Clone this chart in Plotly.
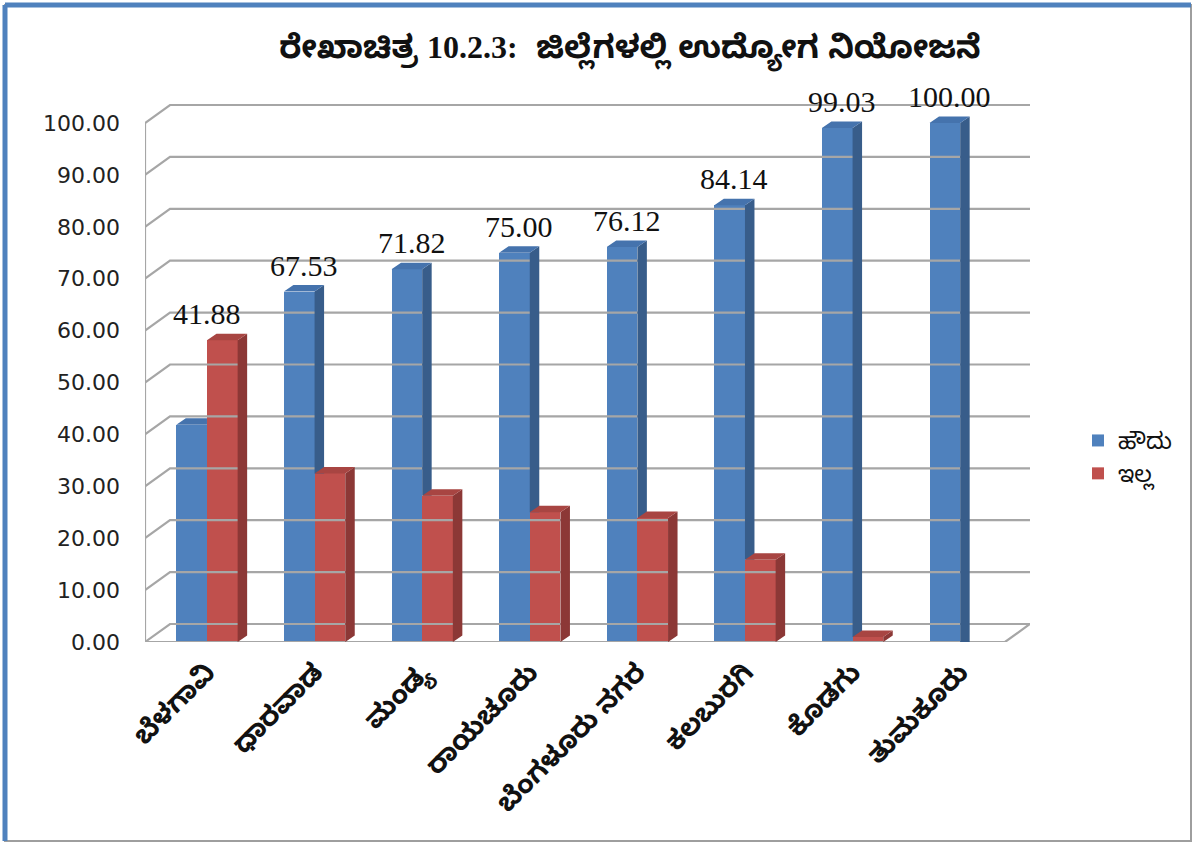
import plotly.graph_objects as go

categories = ["ಬೆಳಗಾವಿ", "ಧಾರವಾಡ", "ಮಂಡ್ಯ", "ರಾಯಚೂರು", "ಬೆಂಗಳೂರು ನಗರ", "ಕಲಬುರಗಿ", "ಕೊಡಗು", "ತುಮಕೂರು"]
yes_vals = [41.88, 67.53, 71.82, 75.00, 76.12, 84.14, 99.03, 100.00]
no_vals = [58.12, 32.47, 28.18, 25.00, 23.88, 15.86, 0.97, 0.00]
series_names = ["ಹೌದು", "ಇಲ್ಲ"]
y_ticks = [0, 10, 20, 30, 40, 50, 60, 70, 80, 90, 100]
title_text = ("<b>ರೇಖಾಚಿತ್ರ <span style='font-family:Liberation Serif'>10.2.3:</span>"
              "  ಜಿಲ್ಲೆಗಳಲ್ಲಿ ಉದ್ಯೋಗ ನಿಯೋಜನೆ</b>")

KN = "Noto Sans Kannada, Noto Sans, Lohit Kannada, sans-serif"
BLUE, BLUE_SIDE, BLUE_TOP = "#4F81BD", "#385D8A", "#4573AD"
RED, RED_SIDE, RED_TOP = "#C0504D", "#8C3836", "#A84542"
GRID = "#A6A6A6"

W, H = 1194, 843
ML, MR, MT, MB = 145, 164, 95, 201
plot_w, plot_h = W - ML - MR, H - MT - MB
x_lo, x_hi = -0.576, 7.649
y_lo, y_hi = 0, 105.4
ppx = plot_w / (x_hi - x_lo)     # pixels per x unit
ppy = plot_h / (y_hi - y_lo)     # pixels per y unit

bw = 0.285                        # bar width (x units)
bdx, bdy = 9.5 / ppx, 6.5 / ppy   # bar depth projection
wdx, wdy = 25 / ppx, 18 / ppy     # wall depth projection

n = len(categories)
xb = [i - bw / 2 for i in range(n)]
xr = [i + bw / 2 for i in range(n)]

fig = go.Figure()

# back wall gridlines + left wall diagonals + floor
gx, gy = [], []
for t in y_ticks:
    gx += [x_lo, x_lo + wdx, x_hi, None]
    gy += [t, t + wdy, t + wdy, None]
floor_right = x_hi - wdx
gx += [x_lo, floor_right, x_hi, None]
gy += [0, 0, wdy, None]
gx += [x_lo, x_lo, None]
gy += [0, y_ticks[-1], None]
fig.add_trace(go.Scatter(x=gx, y=gy, mode="lines", line=dict(color=GRID, width=2.2),
                         hoverinfo="skip", showlegend=False))

# front faces as bars
fig.add_trace(go.Bar(x=xb, y=yes_vals, width=bw, name=series_names[0],
                     marker=dict(color=BLUE, line=dict(width=0))))
fig.add_trace(go.Bar(x=xr, y=no_vals, width=bw, name=series_names[1],
                     marker=dict(color=RED, line=dict(width=0))))

def faces(xc, vals, clip=None):
    sx, sy, tx, ty = [], [], [], []
    for i, (x, v) in enumerate(zip(xc, vals)):
        if v <= 0:
            continue
        l, r = x - bw / 2, x + bw / 2
        lo = 0
        if clip is not None:
            lo = min(max(clip[i], 0), v + bdy)
        if clip is None or clip[i] < v:
            sx += [r, r + bdx, r + bdx, r, r, None]
            sy += [lo, lo + (bdy if clip is None else 0), v + bdy, v, lo, None]
        if clip is not None and clip[i] >= v + bdy:
            tx += [l, l + bdx, r, r, l, None]
            ty += [v, v + bdy, v + bdy, v, v, None]
        else:
            tx += [l, l + bdx, r + bdx, r, l, None]
            ty += [v, v + bdy, v + bdy, v, v, None]
    return sx, sy, tx, ty

bsx, bsy, btx, bty = faces(xb, yes_vals, clip=no_vals)
rsx, rsy, rtx, rty = faces(xr, no_vals)
for x_, y_, c in [(bsx, bsy, BLUE_SIDE), (btx, bty, BLUE_TOP), (rsx, rsy, RED_SIDE), (rtx, rty, RED_TOP)]:
    fig.add_trace(go.Scatter(x=x_, y=y_, fill="toself", mode="lines", fillcolor=c,
                             line=dict(width=0, color=c), hoverinfo="skip", showlegend=False))

# value labels for the "yes" series
for i, (a, b) in enumerate(zip(yes_vals, no_vals)):
    ax = xb[i] + bdx / 2 if a >= b else i
    fig.add_annotation(x=ax, y=max(a, b), text=f"{a:.2f}", showarrow=False,
                       yanchor="bottom", yshift=8,
                       font=dict(family="Liberation Serif", size=30, color="#111111"))

# chart border
bx0, bx1 = (5 - ML) / plot_w, (1191 - ML) / plot_w
by0, by1 = (H - MB - 841) / plot_h, (H - MB - 5) / plot_h
fig.add_shape(type="rect", xref="paper", yref="paper", x0=bx0, x1=bx1, y0=by0, y1=by1,
              line=dict(color="#9E9E9E", width=2), layer="below")
fig.add_shape(type="line", xref="paper", yref="paper", x0=bx0, x1=bx0, y0=by0, y1=by1,
              line=dict(color="#4F81BD", width=5))
fig.add_shape(type="line", xref="paper", yref="paper", x0=bx0, x1=bx1, y0=by1, y1=by1,
              line=dict(color="#4F81BD", width=5))

fig.update_layout(
    width=W, height=H, autosize=False,
    margin=dict(l=ML, r=MR, t=MT, b=MB, autoexpand=False),
    paper_bgcolor="white", plot_bgcolor="white",
    barmode="overlay", bargap=0,
    title=dict(text=title_text, x=630 / W, xref="container", xanchor="center",
               y=1 - 47 / H, yref="container", yanchor="middle",
               font=dict(family=KN, size=32, color="#111111")),
    xaxis=dict(range=[x_lo, x_hi], tickmode="array", tickvals=list(range(n)),
               ticktext=[f"<b>{c}</b>" for c in categories], tickangle=-45,
               showgrid=False, zeroline=False, showline=False, ticks="",
               ticklabelstandoff=8, automargin=False,
               tickfont=dict(family=KN, size=27, color="#111111")),
    yaxis=dict(range=[y_lo, y_hi], tickmode="array", tickvals=y_ticks,
               ticktext=[f"{t:.2f}" for t in y_ticks],
               showgrid=False, zeroline=False, showline=False, ticks="",
               ticklabelstandoff=24, automargin=False,
               tickfont=dict(family="DejaVu Sans", size=22, color="#222222")),
    legend=dict(x=(1078 - ML) / plot_w, y=(H - MB - 457) / plot_h, xanchor="left", yanchor="middle",
                font=dict(family=KN, size=23, color="#111111"), tracegroupgap=0,
                itemwidth=30, bgcolor="rgba(0,0,0,0)"),
)

fig.write_html("out.html", config={"displayModeBar": False},
               post_script="document.body.style.margin='0';document.body.style.overflow='hidden';")
